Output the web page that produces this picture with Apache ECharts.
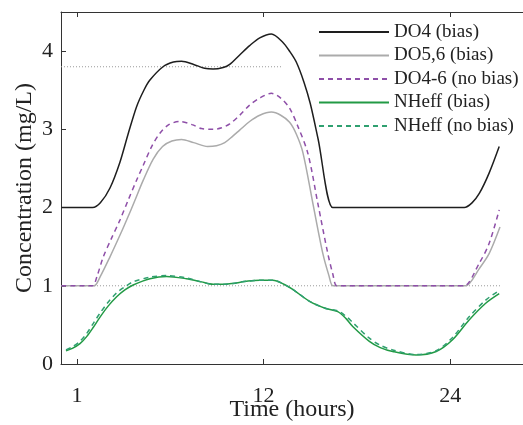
<!DOCTYPE html>
<html>
<head>
<meta charset="utf-8">
<script src="https://cdn.jsdelivr.net/npm/echarts@6/dist/echarts.min.js"></script>
<style>
html,body{margin:0;padding:0;background:#fff;}
#chart{width:523px;height:425px;}
</style>
</head>
<body>
<div id="chart"></div>
<script>
// ---- data (x = position along time axis, y = concentration mg/L) ----
const seriesNames = ['DO4 (bias)', 'DO5,6 (bias)', 'DO4-6 (no bias)', 'NHeff (bias)', 'NHeff (no bias)'];

const do4Bias = [[-1,2.0],[1.0,2.0],[1.5,2.06],[2.12,2.25],[2.76,2.58],[3.3,2.95],[3.83,3.29],[4.3,3.50],[4.69,3.63],[5.53,3.80],[6.2,3.86],[6.72,3.87],[7.5,3.83],[8.2,3.78],[8.75,3.77],[9.4,3.79],[9.82,3.83],[10.46,3.95],[11.1,4.07],[11.75,4.17],[12.5,4.22],[13.2,4.12],[13.7,3.99],[14.1,3.86],[14.6,3.60],[15.0,3.33],[15.5,2.88],[16.45,2.0],[17.0,2.0],[24.4,2.0],[24.9,2.0],[25.4,2.06],[25.87,2.18],[26.5,2.44],[27.15,2.78]];

const do56Bias = [[-1,1.0],[0.6,1.0],[1.1,1.0],[1.5,1.12],[2.12,1.37],[2.7,1.62],[3.19,1.84],[3.7,2.08],[4.26,2.35],[4.9,2.62],[5.5,2.78],[6.1,2.85],[6.72,2.87],[7.5,2.83],[8.4,2.78],[8.97,2.79],[9.5,2.83],[10.0,2.91],[10.46,2.99],[11.1,3.10],[11.75,3.18],[12.5,3.22],[13.1,3.18],[13.67,3.09],[14.1,2.94],[14.53,2.70],[15.17,2.05],[15.81,1.41],[16.2,1.13],[16.45,1.0],[17.0,1.0],[24.5,1.0],[25.0,1.0],[25.87,1.22],[26.5,1.41],[27.2,1.75]];

const do46NoBias = [[-1,1.0],[0.5,1.0],[1.0,1.0],[1.3,1.13],[1.69,1.37],[2.2,1.6],[2.76,1.84],[3.3,2.1],[3.83,2.35],[4.26,2.54],[4.8,2.78],[5.33,2.95],[5.9,3.06],[6.6,3.10],[7.4,3.06],[8.0,3.01],[8.75,3.00],[9.3,3.02],[9.82,3.07],[10.46,3.18],[11.1,3.31],[11.75,3.40],[12.5,3.46],[13.1,3.40],[13.67,3.27],[14.2,3.04],[14.85,2.69],[15.49,2.05],[16.13,1.41],[16.45,1.15],[16.7,1.0],[17.2,1.0],[24.4,1.0],[24.9,1.0],[25.87,1.29],[26.5,1.54],[27.15,1.97]];

const nhBias = [[-0.71,0.17],[-0.3,0.20],[0.19,0.26],[0.62,0.35],[1.05,0.47],[1.48,0.60],[2.0,0.74],[2.55,0.86],[3.1,0.95],[3.61,1.01],[4.69,1.09],[5.76,1.12],[7.04,1.09],[8.0,1.05],[8.75,1.02],[9.5,1.02],[10.0,1.03],[11.0,1.06],[11.75,1.07],[12.6,1.07],[13.3,1.02],[13.9,0.95],[14.96,0.80],[16.0,0.71],[16.77,0.67],[17.3,0.58],[17.73,0.48],[18.8,0.29],[19.5,0.21],[20.3,0.16],[21.8,0.115],[23.1,0.16],[24.15,0.31],[25.2,0.56],[26.3,0.78],[27.15,0.90]];

const nhNoBias = [[-0.71,0.18],[-0.3,0.22],[0.19,0.29],[0.62,0.39],[1.05,0.52],[1.48,0.65],[2.0,0.79],[2.55,0.91],[3.1,0.99],[3.61,1.05],[4.69,1.11],[5.76,1.13],[7.04,1.10],[8.0,1.05],[8.75,1.02],[9.5,1.02],[10.0,1.03],[11.0,1.06],[11.75,1.07],[12.6,1.07],[13.3,1.02],[13.9,0.95],[14.96,0.80],[16.0,0.71],[16.77,0.68],[17.3,0.61],[17.73,0.53],[18.8,0.33],[19.5,0.24],[20.3,0.18],[21.8,0.12],[23.1,0.17],[24.15,0.34],[25.2,0.60],[26.3,0.82],[27.15,0.94]];

const refLow = [[-1.03,1.0],[27.3,1.0]];
const refHigh = [[-1.03,3.8],[13.2,3.8]];

const xTickPos = [0, 12, 24];
const xTickLabels = ['1', '12', '24'];
const yTicks = [0, 1, 2, 3, 4];

// ---- chart ----
const FONT = '"Liberation Serif", "DejaVu Serif", serif';
const chart = echarts.init(document.getElementById('chart'), null, {renderer: 'canvas'});

function lineSeries(name, data, color, type, width) {
  return {
    name: name, type: 'line', data: data, xAxisIndex: 0, yAxisIndex: 0,
    showSymbol: false, symbol: 'none', smooth: 0.3, animation: false,
    lineStyle: {color: color, width: width, type: type},
    itemStyle: {color: color}, z: 3
  };
}
function refSeries(data) {
  return {
    type: 'line', data: data, showSymbol: false, symbol: 'none', silent: true, animation: false,
    lineStyle: {color: '#9a9a9a', width: 1, type: [1, 2]}, z: 2
  };
}

const option = {
  backgroundColor: '#ffffff',
  animation: false,
  grid: {left: 61, top: 12, right: 0, bottom: 61, containLabel: false, outerBoundsMode: 'none'},
  legend: {
    data: seriesNames,
    left: 318, top: 22, orient: 'vertical', padding: 0,
    itemWidth: 70, itemHeight: 14, itemGap: 3.5,
    itemStyle: {opacity: 0},
    textStyle: {fontFamily: FONT, fontSize: 19, color: '#222', lineHeight: 20}
  },
  xAxis: [{
    type: 'value', min: -1.03, max: 28.68, position: 'bottom',
    name: 'Time (hours)', nameLocation: 'middle', nameGap: 34, nameMoveOverlap: false,
    nameTextStyle: {fontFamily: FONT, fontSize: 24, color: '#222'},
    axisLine: {show: true, onZero: false, lineStyle: {color: '#333', width: 1}},
    axisTick: {show: true, inside: true, length: 5, customValues: xTickPos, lineStyle: {color: '#333'}},
    axisLabel: {show: true, customValues: xTickPos, margin: 21, fontFamily: FONT, fontSize: 22, color: '#222',
      formatter: function (v) { const i = xTickPos.indexOf(v); return i >= 0 ? xTickLabels[i] : ''; }},
    splitLine: {show: false}
  }, {
    type: 'value', min: -1.03, max: 28.68, position: 'top',
    axisLine: {show: true, onZero: false, lineStyle: {color: '#333', width: 1}},
    axisTick: {show: true, inside: true, length: 5, customValues: xTickPos, lineStyle: {color: '#333'}},
    axisLabel: {show: false},
    splitLine: {show: false}
  }],
  yAxis: [{
    type: 'value', min: 0, max: 4.5,
    name: 'Concentration (mg/L)', nameLocation: 'middle', nameGap: 24, nameRotate: 90, nameMoveOverlap: false,
    nameTextStyle: {fontFamily: FONT, fontSize: 24, color: '#222'},
    axisLine: {show: true, onZero: false, lineStyle: {color: '#333', width: 1}},
    axisTick: {show: true, inside: true, length: 5, customValues: yTicks, lineStyle: {color: '#333'}},
    axisLabel: {show: true, customValues: yTicks, margin: 8, fontFamily: FONT, fontSize: 22, color: '#222'},
    splitLine: {show: false}
  }],
  series: [
    refSeries(refLow),
    refSeries(refHigh),
    lineSeries(seriesNames[0], do4Bias, '#1e1e1e', 'solid', 1.5),
    lineSeries(seriesNames[1], do56Bias, '#ababab', 'solid', 1.5),
    lineSeries(seriesNames[2], do46NoBias, '#8e4fa8', [5, 4], 1.5),
    lineSeries(seriesNames[3], nhBias, '#229a45', 'solid', 1.5),
    lineSeries(seriesNames[4], nhNoBias, '#2fa070', [5, 4], 1.5)
  ]
};
chart.setOption(option);
</script>
</body>
</html>
